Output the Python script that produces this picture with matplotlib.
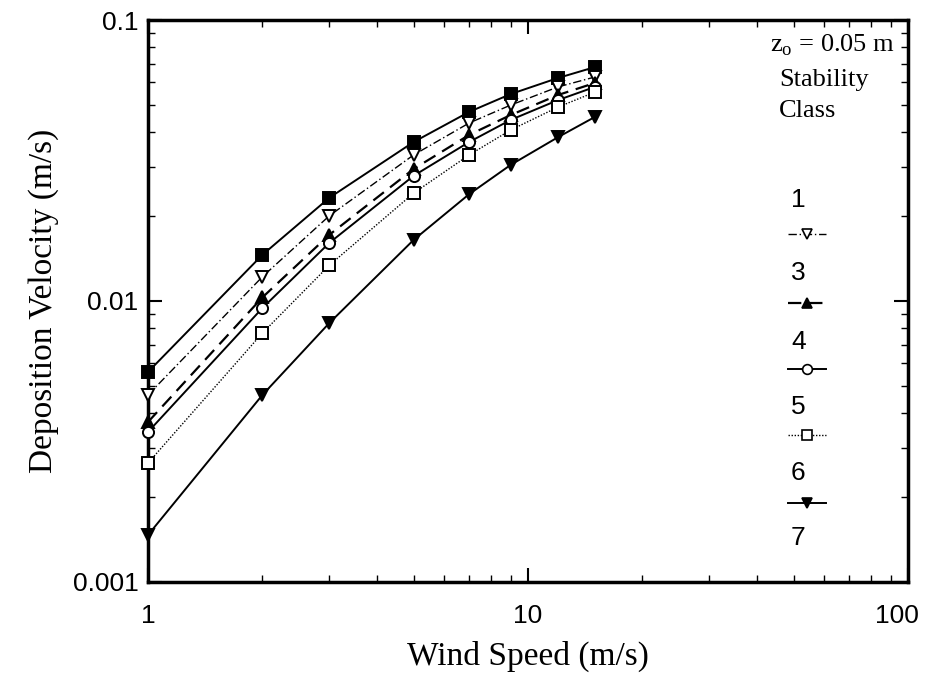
import matplotlib
matplotlib.use('Agg')
import matplotlib.pyplot as plt
from matplotlib.ticker import LogLocator, NullFormatter, FixedLocator, FixedFormatter
from matplotlib.transforms import ScaledTranslation

# wind speed (m/s)
wind = [1, 2, 3, 5, 7, 9, 12, 15]

# deposition velocity (m/s) per curve
v_sq   = [0.00559, 0.0146, 0.0233, 0.0368, 0.0471, 0.0545, 0.0622, 0.0680]
v_tdn  = [0.00463, 0.0122, 0.0201, 0.0331, 0.0430, 0.0498, 0.0578, 0.0627]
v_tup  = [0.00371, 0.0103, 0.0172, 0.0295, 0.0390, 0.0459, 0.0541, 0.0597]
v_circ = [0.00342, 0.00944, 0.0161, 0.0279, 0.0368, 0.0441, 0.0519, 0.0578]
v_box  = [0.00265, 0.00769, 0.0134, 0.0242, 0.0331, 0.0406, 0.0490, 0.0554]
v_tfil = [0.00147, 0.00463, 0.00835, 0.0165, 0.0240, 0.0305, 0.0383, 0.0452]

legend_labels = ['1', '3', '4', '5', '6', '7']
xtick_vals = [1, 10, 100]
xtick_labels = ['1', '10', '100']
ytick_vals = [0.001, 0.01, 0.1]
ytick_labels = ['0.001', '0.01', '0.1']

serif = 'Liberation Serif'
sans = 'Liberation Sans'

# style for each curve: (marker, filled, linestyle, linewidth)
styles = [
    ('s', True, '-', 1.4),
    ('v', False, (0, (6, 2, 1, 2)), 1.0),
    ('^', True, (0, (6, 3.5)), 1.6),
    ('o', False, '-', 1.4),
    ('s', False, (0, (1, 1.2)), 1.0),
    ('v', True, '-', 1.4),
]
series = [v_sq, v_tdn, v_tup, v_circ, v_box, v_tfil]

fig = plt.figure(figsize=(9.28, 6.97), dpi=100)
ax = fig.add_axes([0.1595, 0.165, 0.819, 0.8063])

for vals, (mk, filled, ls, lw) in zip(series, styles):
    ax.plot(wind, vals, color='black', linestyle=ls, linewidth=lw,
            marker=mk, markersize=8,
            markerfacecolor='black' if filled else 'white',
            markeredgecolor='black', markeredgewidth=1.4, clip_on=False, zorder=3)

ax.set_xscale('log')
ax.set_yscale('log')
ax.set_xlim(1, 100)
ax.set_ylim(0.001, 0.1)

ax.xaxis.set_major_locator(FixedLocator(xtick_vals))
ax.xaxis.set_major_formatter(FixedFormatter(xtick_labels))
ax.yaxis.set_major_locator(FixedLocator(ytick_vals))
ax.yaxis.set_major_formatter(FixedFormatter(ytick_labels))
for a in (ax.xaxis, ax.yaxis):
    a.set_minor_locator(LogLocator(base=10, subs=range(2, 10)))
    a.set_minor_formatter(NullFormatter())

ax.tick_params(which='both', direction='in', top=True, right=True, colors='black')
ax.tick_params(which='major', length=10, width=1.5)
ax.tick_params(which='minor', length=5, width=1)
ax.tick_params(axis='x', which='major', pad=16)
ax.tick_params(axis='y', which='major', pad=7)
for lab in ax.get_xticklabels() + ax.get_yticklabels():
    lab.set_fontfamily(sans)
    lab.set_fontsize(19)
for sp in ax.spines.values():
    sp.set_linewidth(2.5)

# nudge the "100" label left so it stays inside the figure
last = ax.xaxis.get_major_ticks()[-1].label1
last.set_transform(last.get_transform() + ScaledTranslation(-8 / 72, 0, fig.dpi_scale_trans))

ax.set_xlabel('Wind Speed (m/s)', fontsize=24, family=serif, labelpad=9)
ax.set_ylabel('Deposition Velocity (m/s)', fontsize=24, family=serif, labelpad=10)

# annotation block
ax.text(0.818, 0.955, r'z$_\mathregular{o}$ = 0.05 m', transform=ax.transAxes,
        fontsize=19, family=serif, ha='left', va='center')
ax.text(0.83, 0.893, 'Stability', transform=ax.transAxes,
        fontsize=19, family=serif, ha='left', va='center')
ax.text(0.83, 0.838, 'Class', transform=ax.transAxes,
        fontsize=19, family=serif, ha='left', va='center')

# hand-made legend: labels with sample lines in between
lab_y = [0.680, 0.550, 0.427, 0.311, 0.194, 0.078]
samp_y = [0.619, 0.496, 0.379, 0.262, 0.141]
for lbl, yy in zip(legend_labels, lab_y):
    ax.text(0.846, yy, lbl, transform=ax.transAxes, fontsize=19,
            family=sans, ha='left', va='center')
for (mk, filled, ls, lw), yy in zip(styles[1:], samp_y):
    ax.plot([0.842, 0.892], [yy, yy], transform=ax.transAxes, color='black',
            linestyle=ls, linewidth=lw, clip_on=False)
    ax.plot([0.867], [yy], transform=ax.transAxes, marker=mk, markersize=7,
            markerfacecolor='black' if filled else 'white',
            markeredgecolor='black', markeredgewidth=1.2, clip_on=False)

fig.savefig('out.png', dpi=100)
